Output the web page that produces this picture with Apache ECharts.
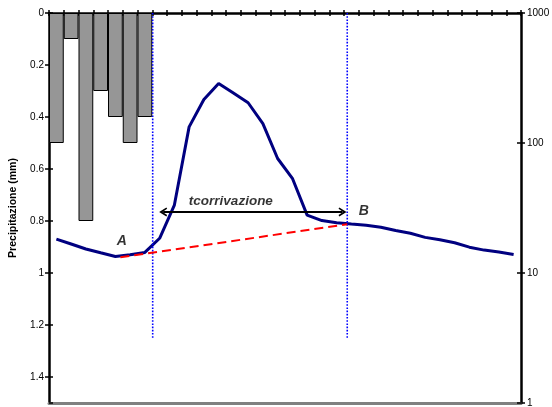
<!DOCTYPE html>
<html>
<head>
<meta charset="utf-8">
<script src="https://cdn.jsdelivr.net/npm/echarts@6/dist/echarts.min.js"></script>
<style>
  html, body { margin: 0; padding: 0; background: #ffffff; }
  #chart { width: 552px; height: 407px; }
</style>
</head>
<body>
<div id="chart"></div>
<script>
// Time steps (hourly intervals)
const steps = ['1','2','3','4','5','6','7','8','9','10','11','12','13','14','15','16',
               '17','18','19','20','21','22','23','24','25','26','27','28','29','30','31','32'];

// Rainfall per step (mm), hanging from the top axis
const rain = [0.5, 0.1, 0.8, 0.3, 0.4, 0.5, 0.4];

// Discharge per step (log scale, right axis)
const flow = [18.2, 16.7, 15.3, 14.3, 13.4, 13.8, 14.4, 18.5, 33.3, 133, 216, 287, 242, 204, 141,
              76, 53.5, 27.9, 25.3, 24.4, 23.8, 23.3, 22.5, 21.2, 20.2, 18.8, 18.0, 17.1, 15.8,
              15.0, 14.5, 13.9];

// Baseflow separation line A -> B (step position, discharge)
const baseX = [4.84, 20.22];
const baseQ = [13.2, 23.7];

// Vertical markers: start of runoff and point B (step position), depth span on left axis
const markerX = [7.03, 20.22];
const markerSpan = [0, 1.255];

// Concentration time arrow: shaft ends (step positions), depth on left axis
const arrowX = [7.74, 19.9];
const arrowDepth = 0.765;

// Text annotations (step position, depth on left axis)
const notes = [
  { name: 'A', value: [4.93, 0.876], size: 14 },
  { name: 'B', value: [21.35, 0.761], size: 14 },
  { name: 'tcorrivazione', value: [12.33, 0.726], size: 13.5 }
];

const leftTicks = ['0', '0.2', '0.4', '0.6', '0.8', '1', '1.2', '1.4'];

const FONT = '"Liberation Sans", Arial, sans-serif';
// open chevron head, tip pointing up before rotation
const CHEVRON = 'path://M5,0 L10,9 L8.4,10 L5,4.2 L1.6,10 L0,9 Z';
const chart = echarts.init(document.getElementById('chart'), null, { renderer: 'canvas' });

const tickStyle = { color: '#000000', width: 1.5 };

const markerSeries = markerX.map((x, i) => ({
  type: 'line',
  xAxisIndex: 1,
  yAxisIndex: 0,
  data: [[x, markerSpan[0]], [x, markerSpan[1]]],
  symbol: 'none',
  silent: true,
  z: 4,
  lineStyle: { color: '#0000ff', width: 1.6, type: [1.6, 1.6] },
  markLine: i === 0 ? {
    silent: true,
    symbol: [CHEVRON, CHEVRON],
    symbolSize: [9, 8],
    label: { show: false },
    lineStyle: { color: '#000000', width: 2, type: 'solid' },
    data: [[{ coord: [arrowX[0], arrowDepth] }, { coord: [arrowX[1], arrowDepth] }]]
  } : undefined
}));

chart.setOption({
  animation: false,
  backgroundColor: '#ffffff',
  textStyle: { fontFamily: FONT },
  grid: { left: 49, right: 31, top: 13, bottom: 4, containLabel: false, outerBoundsMode: 'none' },
  xAxis: [
    {
      type: 'category',
      data: steps,
      position: 'top',
      boundaryGap: true,
      axisLine: { onZero: false, lineStyle: { color: '#000000', width: 2.5 } },
      axisTick: { show: true, interval: 0, length: 3, lineStyle: tickStyle },
      axisLabel: { show: false, interval: 0 },
      splitLine: { show: false }
    },
    {
      type: 'value',
      min: 0,
      max: 32,
      position: 'bottom',
      axisLine: { show: true, onZero: false, lineStyle: { color: '#808080', width: 3 } },
      axisTick: { show: false },
      axisLabel: { show: false },
      splitLine: { show: false }
    },
    {
      // inner half of the crossing ticks on the top axis
      type: 'category',
      data: steps,
      position: 'top',
      boundaryGap: true,
      axisLine: { show: false, onZero: false },
      axisTick: { show: true, inside: true, interval: 0, length: 3, lineStyle: tickStyle },
      axisLabel: { show: false, interval: 0 },
      splitLine: { show: false }
    }
  ],
  yAxis: [
    {
      type: 'value',
      inverse: true,
      min: 0,
      max: 1.5,
      interval: 0.2,
      position: 'left',
      name: 'Precipitazione (mm)',
      nameLocation: 'middle',
      nameGap: 30,
      nameTextStyle: { fontFamily: FONT, fontSize: 10.5, fontWeight: 'bold', color: '#000000' },
      axisLine: { onZero: false, lineStyle: { color: '#000000', width: 2.5 } },
      axisTick: { show: true, length: 4, lineStyle: tickStyle },
      axisLabel: {
        showMaxLabel: false,
        margin: 5,
        fontFamily: FONT, fontSize: 10, color: '#000000',
        formatter: (v) => {
          const idx = Math.round(v / 0.2);
          return Math.abs(v - idx * 0.2) < 1e-6 && idx < leftTicks.length ? leftTicks[idx] : '';
        }
      },
      splitLine: { show: false }
    },
    {
      type: 'log',
      logBase: 10,
      min: 1,
      max: 1000,
      position: 'right',
      axisLine: { onZero: false, lineStyle: { color: '#000000', width: 2.5 } },
      axisTick: { show: true, length: 4, lineStyle: tickStyle },
      axisLabel: {
        margin: 6, fontFamily: FONT, fontSize: 10, color: '#000000',
        formatter: (v) => String(Math.round(v))
      },
      minorTick: { show: false },
      splitLine: { show: false }
    },
    {
      // inner half of the crossing ticks on the left axis
      type: 'value',
      inverse: true,
      min: 0,
      max: 1.5,
      interval: 0.2,
      position: 'left',
      axisLine: { show: false, onZero: false },
      axisTick: { show: true, inside: true, length: 4, lineStyle: tickStyle },
      axisLabel: { show: false },
      splitLine: { show: false }
    },
    {
      // inner half of the crossing ticks on the right axis
      type: 'log',
      logBase: 10,
      min: 1,
      max: 1000,
      position: 'right',
      axisLine: { show: false, onZero: false },
      axisTick: { show: true, inside: true, length: 4, lineStyle: tickStyle },
      axisLabel: { show: false },
      minorTick: { show: false },
      splitLine: { show: false }
    }
  ],
  series: [
    {
      type: 'bar',
      xAxisIndex: 0,
      yAxisIndex: 0,
      data: rain,
      barWidth: '100%',
      barCategoryGap: 0,
      itemStyle: { color: '#969696', borderColor: '#000000', borderWidth: 1 },
      silent: true,
      z: 2
    },
    {
      type: 'line',
      xAxisIndex: 0,
      yAxisIndex: 1,
      data: flow,
      symbol: 'none',
      smooth: false,
      silent: true,
      z: 3,
      lineStyle: { color: '#000080', width: 3 }
    },
    {
      type: 'line',
      xAxisIndex: 1,
      yAxisIndex: 1,
      data: baseX.map((x, i) => [x, baseQ[i]]),
      symbol: 'none',
      silent: true,
      z: 5,
      lineStyle: { color: '#ff0000', width: 2, type: [9, 5] }
    },
    ...markerSeries,
    {
      type: 'scatter',
      xAxisIndex: 1,
      yAxisIndex: 0,
      symbolSize: 0,
      silent: true,
      z: 6,
      data: notes.map(n => ({
        name: n.name,
        value: n.value,
        label: {
          show: true,
          position: 'inside',
          formatter: '{b}',
          fontFamily: FONT,
          fontSize: n.size,
          fontWeight: 'bold',
          fontStyle: 'italic',
          color: '#000000'
        }
      }))
    }
  ]
});
</script>
</body>
</html>
